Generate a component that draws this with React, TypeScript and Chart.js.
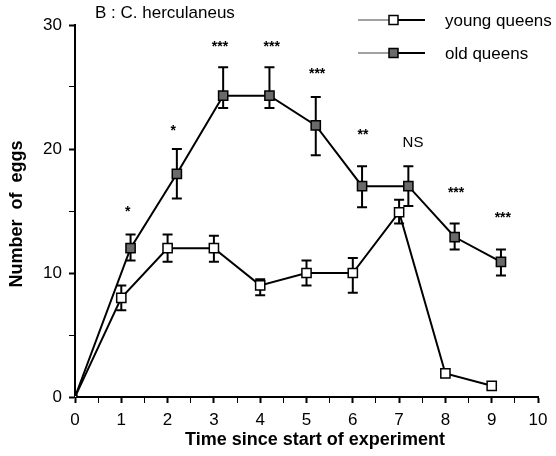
import { useEffect, useRef } from 'react';
import { Chart, registerables } from 'chart.js';
Chart.register(...registerables);

const FONT = '"Liberation Sans", Arial, Helvetica, sans-serif';

// Young queens
const youngX = [0, 1, 2, 3, 4, 5, 6, 7, 8, 9];
const youngY = [0, 8.0, 12.0, 12.0, 9.0, 10.0, 10.0, 14.9, 1.9, 0.9];
const youngLow = [null, 7.0, 10.9, 10.9, 8.2, 9.0, 8.4, 14.0, null, null];
const youngHigh = [null, 9.0, 13.1, 13.0, 9.5, 11.0, 11.2, 15.9, null, null];

// Old queens
const oldX = [0, 1.2, 2.2, 3.2, 4.2, 5.2, 6.2, 7.2, 8.2, 9.2];
const oldY = [0, 12.0, 18.0, 24.3, 24.3, 21.9, 17.0, 17.0, 12.9, 10.9];
const oldLow = [null, 11.0, 16.0, 23.3, 23.3, 19.5, 15.3, 15.4, 11.9, 9.8];
const oldHigh = [null, 13.1, 20.0, 26.6, 26.6, 24.2, 18.6, 18.6, 14.0, 11.9];

// Significance annotations
const sigX = [1.14, 2.12, 3.13, 4.25, 5.23, 6.22, 7.3, 8.23, 9.24];
const sigY = [15.3, 21.85, 28.6, 28.6, 26.4, 21.5, 20.6, 16.8, 14.8];
const sigText = ['*', '*', '***', '***', '***', '**', 'NS', '***', '***'];

const seriesLabels = ['young queens', 'old queens'];
const chartTitle = 'B : C. herculaneus';
const xTitle = 'Time since start of experiment';
const yTitle = 'Number  of  eggs';

const OLD_FILL = '#6a6a6a';

export default function App() {
  const ref = useRef<HTMLCanvasElement>(null);

  useEffect(() => {
    const canvas = ref.current!;

    const errorBars = {
      id: 'errorBars',
      beforeDatasetsDraw(chart: any) {
        const { ctx } = chart;
        const xs = chart.scales.x;
        const ys = chart.scales.y;
        const sets = [
          [youngX, youngLow, youngHigh],
          [oldX, oldLow, oldHigh],
        ] as any[];
        ctx.save();
        ctx.strokeStyle = '#000';
        ctx.lineWidth = 2;
        for (const [xArr, lo, hi] of sets) {
          for (let i = 0; i < xArr.length; i++) {
            if (lo[i] == null || hi[i] == null) continue;
            const px = xs.getPixelForValue(xArr[i]);
            const pl = ys.getPixelForValue(lo[i]);
            const ph = ys.getPixelForValue(hi[i]);
            ctx.beginPath();
            ctx.moveTo(px, pl);
            ctx.lineTo(px, ph);
            ctx.moveTo(px - 5, pl);
            ctx.lineTo(px + 5, pl);
            ctx.moveTo(px - 5, ph);
            ctx.lineTo(px + 5, ph);
            ctx.stroke();
          }
        }
        ctx.restore();
      },
    };

    const texts = {
      id: 'texts',
      afterDraw(chart: any) {
        const { ctx } = chart;
        const xs = chart.scales.x;
        const ys = chart.scales.y;
        ctx.save();
        ctx.fillStyle = '#000';

        // significance marks
        for (let i = 0; i < sigText.length; i++) {
          const px = xs.getPixelForValue(sigX[i]);
          const py = ys.getPixelForValue(sigY[i]);
          ctx.textAlign = 'center';
          ctx.textBaseline = 'alphabetic';
          if (sigText[i] === 'NS') {
            ctx.font = `15px ${FONT}`;
            ctx.fillText(sigText[i], px, py + 5.5);
          } else {
            ctx.font = `bold 14px ${FONT}`;
            ctx.fillText(sigText[i], px, py + 8.5);
          }
        }

        // chart title
        ctx.font = `17px ${FONT}`;
        ctx.textAlign = 'left';
        ctx.textBaseline = 'middle';
        ctx.fillText(chartTitle, 95, 13);

        // axis titles
        ctx.font = `bold 18px ${FONT}`;
        ctx.textAlign = 'center';
        ctx.textBaseline = 'middle';
        ctx.fillText(xTitle, 315, 440);
        ctx.save();
        ctx.translate(17, 214);
        ctx.rotate(-Math.PI / 2);
        ctx.fillText(yTitle, 0, 0);
        ctx.restore();

        // legend
        const rows = [20, 53];
        for (let r = 0; r < 2; r++) {
          const y = rows[r];
          ctx.strokeStyle = '#444';
          ctx.lineWidth = 1;
          ctx.beginPath();
          ctx.moveTo(358, y);
          ctx.lineTo(390, y);
          ctx.stroke();
          ctx.strokeStyle = '#000';
          ctx.lineWidth = 2;
          ctx.beginPath();
          ctx.moveTo(396, y);
          ctx.lineTo(425, y);
          ctx.stroke();
          ctx.fillStyle = r === 0 ? '#fff' : OLD_FILL;
          ctx.lineWidth = 1.5;
          ctx.beginPath();
          ctx.rect(389, y - 4.5, 9, 9);
          ctx.fill();
          ctx.stroke();
          ctx.fillStyle = '#000';
          ctx.font = `17px ${FONT}`;
          ctx.textAlign = 'left';
          ctx.textBaseline = 'middle';
          ctx.fillText(seriesLabels[r], 445, y + 1);
        }
        ctx.restore();
      },
    };

    const radius = (c: any) => (c.dataIndex === 0 ? 2.5 : 6.5);

    const chart = new Chart(canvas, {
      type: 'scatter',
      data: {
        datasets: [
          {
            label: seriesLabels[0],
            data: youngX.map((x, i) => ({ x, y: youngY[i] })),
            showLine: true,
            borderColor: '#000',
            borderWidth: 2,
            pointStyle: 'rect',
            pointRadius: radius,
            pointBackgroundColor: '#fff',
            pointBorderColor: '#000',
            pointBorderWidth: 1.5,
            tension: 0,
          },
          {
            label: seriesLabels[1],
            data: oldX.map((x, i) => ({ x, y: oldY[i] })),
            showLine: true,
            borderColor: '#000',
            borderWidth: 2,
            pointStyle: 'rect',
            pointRadius: radius,
            pointBackgroundColor: OLD_FILL,
            pointBorderColor: '#000',
            pointBorderWidth: 1.5,
            tension: 0,
          },
        ],
      },
      options: {
        responsive: false,
        animation: false,
        events: [],
        layout: { padding: { top: 25, right: 18, left: 0, bottom: 0 } },
        plugins: { legend: { display: false }, tooltip: { enabled: false } },
        scales: {
          x: {
            type: 'linear',
            min: 0,
            max: 10,
            afterFit: (s: any) => {
              s.height = 59;
            },
            ticks: {
              stepSize: 0.5,
              autoSkip: false,
              maxRotation: 0,
              color: '#000',
              padding: 7,
              font: { family: FONT, size: 17 },
              callback: (v: any) => (Number.isInteger(v) ? String(v) : ''),
            },
            grid: {
              drawOnChartArea: false,
              tickLength: 6,
              tickColor: '#000',
              tickWidth: (c: any) => (c.tick && Number.isInteger(c.tick.value) ? 2 : 1),
            },
            border: { color: '#000', width: 2 },
          },
          y: {
            type: 'linear',
            min: 0,
            max: 30,
            afterFit: (s: any) => {
              s.width = 75;
            },
            ticks: {
              stepSize: 5,
              color: '#000',
              padding: 7,
              font: { family: FONT, size: 17 },
              callback: (v: any) => (v % 10 === 0 ? String(v) : ''),
            },
            grid: {
              drawOnChartArea: false,
              tickLength: 6,
              tickColor: '#000',
              tickWidth: (c: any) => (c.tick && c.tick.value % 10 === 0 ? 2 : 1),
            },
            border: { color: '#000', width: 2 },
          },
        },
      },
      plugins: [errorBars, texts],
    } as any);

    return () => chart.destroy();
  }, []);

  return (
    <div style={{ position: 'fixed', left: 0, top: 0, width: 556, height: 456, background: '#fff' }}>
      <canvas ref={ref} width={556} height={456} style={{ display: 'block', width: 556, height: 456 }} />
    </div>
  );
}
